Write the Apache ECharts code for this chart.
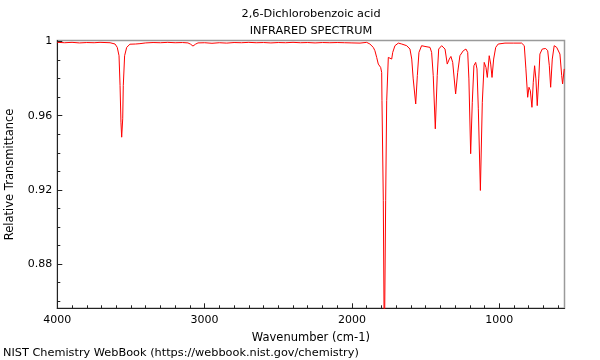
<!DOCTYPE html>
<html>
<head>
<meta charset="utf-8">
<script src="https://cdn.jsdelivr.net/npm/echarts@6/dist/echarts.min.js"></script>
<style>html,body{margin:0;padding:0;background:#fff;}#c{width:600px;height:360px;}</style>
</head>
<body>
<div id="c"></div>
<script>
const wavenumbers = [4000,3950,3900,3850,3800,3750,3710,3642,3608,3593,3581,3574,3568,3563,3556,3552,3543,3529,3507,3470,3439,3400,3350,3300,3250,3200,3150,3113,3095,3079,3062,3045,3000,2950,2900,2850,2800,2750,2700,2650,2600,2550,2500,2450,2400,2350,2300,2250,2200,2150,2100,2050,2000,1945,1900,1878,1855,1844,1832,1821,1805,1798,1796,1787,1780,1771,1764,1753,1746,1730,1723,1708,1685,1662,1628,1606,1594,1584,1567,1556,1545,1527,1504,1470,1459,1448,1434,1421,1411,1391,1368,1353,1339,1328,1316,1296,1282,1267,1244,1226,1214,1206,1194,1183,1172,1160,1151,1142,1128,1115,1102,1090,1081,1068,1058,1049,1038,1024,1007,961,905,848,830,819,807,798,789,778,769,760,751,742,732,724,708,685,671,660,651,640,627,610,599,588,576,570,559];
const transmittance = [0.9995,0.9993,0.9995,0.9992,0.9994,0.9993,0.9995,0.9993,0.9986,0.9968,0.9923,0.9762,0.9565,0.9484,0.9583,0.9762,0.9923,0.9968,0.9985,0.9986,0.9988,0.9992,0.9994,0.9993,0.9995,0.9993,0.9994,0.9992,0.9985,0.9975,0.9985,0.9992,0.9993,0.9990,0.9993,0.9991,0.9994,0.9993,0.9995,0.9993,0.9994,0.9992,0.9994,0.9993,0.9995,0.9993,0.9994,0.9992,0.9994,0.9993,0.9994,0.9993,0.9992,0.9991,0.9995,0.9986,0.9968,0.9950,0.9914,0.9878,0.9860,0.9833,0.9681,0.9144,0.83,0.9144,0.9681,0.9914,0.9905,0.9905,0.9941,0.9977,0.9991,0.9986,0.9977,0.9959,0.9905,0.9798,0.9663,0.9816,0.9941,0.9977,0.9973,0.9968,0.9941,0.9816,0.9529,0.9816,0.9959,0.9977,0.9959,0.9878,0.9905,0.9919,0.9887,0.9717,0.9833,0.9923,0.9950,0.9959,0.9941,0.9798,0.9395,0.9672,0.9869,0.9887,0.9852,0.9637,0.9197,0.9672,0.9887,0.9860,0.9806,0.9923,0.9878,0.9806,0.9905,0.9968,0.9986,0.9991,0.9991,0.9991,0.9977,0.9852,0.9699,0.9753,0.9735,0.9645,0.9780,0.9869,0.9798,0.9654,0.9798,0.9932,0.9959,0.9962,0.9950,0.9869,0.9753,0.9905,0.9977,0.9968,0.9959,0.9932,0.9816,0.9771,0.9852];
const xMajorTicks = [1000,2000,3000,4000];
const xMinorTicks = [600,700,800,900,1100,1200,1300,1400,1500,1600,1700,1800,1900,2100,2200,2300,2400,2500,2600,2700,2800,2900,3100,3200,3300,3400,3500,3600,3700,3800,3900];
const yMajorTicks = [0.88,0.92,0.96,1];
const yMinorTicks = [0.86,0.87,0.89,0.90,0.91,0.93,0.94,0.95,0.97,0.98,0.99];
const titleMain = '2,6-Dichlorobenzoic acid';
const titleSub = 'INFRARED SPECTRUM';
const footer = 'NIST Chemistry WebBook (https://webbook.nist.gov/chemistry)';

const FONT = 'DejaVu Sans';
const X_MIN = 557, X_MAX = 4000, Y_MIN = 0.8562, Y_MAX = 1.0005;
const chart = echarts.init(document.getElementById('c'), null, {renderer: 'canvas'});
const txt = {fontFamily: FONT, fontSize: 11, color: '#000', fontWeight: 'normal'};
const headTxt = {fontFamily: FONT, fontSize: 11.3, color: '#000', fontWeight: 'normal'};
const nameTxt = {fontFamily: FONT, fontSize: 11.5, color: '#000', fontWeight: 'normal'};
chart.setOption({
  animation: false,
  backgroundColor: '#fff',
  title: [
    {text: titleMain, left: 311, top: 9, padding: 0, textAlign: 'center', textStyle: headTxt},
    {text: titleSub, left: 311, top: 26, padding: 0, textAlign: 'center', textStyle: headTxt},
    {text: footer, left: 3, top: 348, padding: 0, textStyle: headTxt}
  ],
  grid: {left: 57.3, right: 35.5, top: 40.5, bottom: 51.7, outerBoundsMode: 'none', containLabel: false,
         show: true, borderColor: '#9a9a9a', borderWidth: 1.5, backgroundColor: 'transparent'},
  xAxis: [
    {type: 'value', inverse: true, min: X_MIN, max: X_MAX, position: 'bottom',
     name: 'Wavenumber (cm-1)', nameLocation: 'middle', nameGap: 24, nameTextStyle: nameTxt,
     axisLine: {show: true, lineStyle: {color: '#222', width: 1}},
     axisTick: {show: true, inside: true, length: 5, customValues: xMajorTicks, lineStyle: {color: '#222'}},
     axisLabel: {show: true, customValues: xMajorTicks, margin: 6, formatter: v => String(Math.round(v)), ...txt},
     splitLine: {show: false}},
    {type: 'value', inverse: true, min: X_MIN, max: X_MAX, position: 'bottom',
     axisLine: {show: false},
     axisTick: {show: true, inside: true, length: 3, customValues: xMinorTicks, lineStyle: {color: '#222'}},
     axisLabel: {show: false}, splitLine: {show: false}}
  ],
  yAxis: [
    {type: 'value', min: Y_MIN, max: Y_MAX, position: 'left',
     name: 'Relative Transmittance', nameLocation: 'middle', nameGap: 41, nameRotate: 90, nameTextStyle: nameTxt,
     axisLine: {show: true, lineStyle: {color: '#222', width: 1}},
     axisTick: {show: true, inside: true, length: 5, customValues: yMajorTicks, lineStyle: {color: '#222'}},
     axisLabel: {show: true, customValues: yMajorTicks, margin: 5, formatter: v => (Math.abs(v - 1) < 1e-9 ? '1' : v.toFixed(2)), ...txt},
     splitLine: {show: false}},
    {type: 'value', min: Y_MIN, max: Y_MAX, position: 'left',
     axisLine: {show: false},
     axisTick: {show: true, inside: true, length: 3, customValues: yMinorTicks, lineStyle: {color: '#222'}},
     axisLabel: {show: false}, splitLine: {show: false}}
  ],
  series: [{
    type: 'line', xAxisIndex: 0, yAxisIndex: 0,
    data: wavenumbers.map((w, i) => [w, transmittance[i]]),
    showSymbol: false, clip: true,
    lineStyle: {color: '#ff0000', width: 1},
    itemStyle: {color: '#ff0000'}
  }]
});
</script>
</body>
</html>
